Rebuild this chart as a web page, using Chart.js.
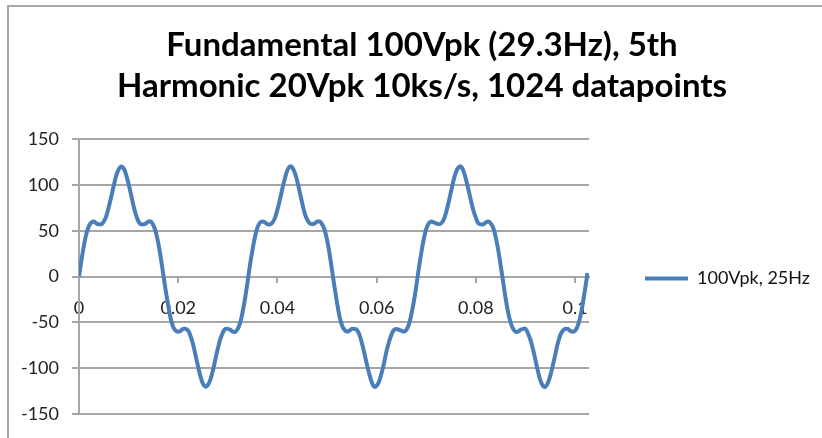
<!DOCTYPE html>
<html>
<head>
<meta charset="utf-8">
<script src="https://cdn.jsdelivr.net/npm/chart.js@4.4.1/dist/chart.umd.min.js"></script>
<style>
  html, body { margin: 0; padding: 0; background: #fff; overflow: hidden; }
  #wrap { position: relative; width: 822px; height: 438px; }
  #frame {
    position: absolute; left: 7px; top: 5px; width: 840px; height: 460px;
    border-top: 2px solid #a6a6a6; border-left: 2px solid #a6a6a6;
    pointer-events: none;
  }
</style>
</head>
<body>
<div id="wrap">
  <canvas id="chart" width="822" height="438"></canvas>
  <div id="frame"></div>
</div>
<script>
const titleLines = ['Fundamental 100Vpk (29.3Hz), 5th', 'Harmonic 20Vpk 10ks/s, 1024 datapoints']
const seriesLabel = '100Vpk, 25Hz'

// values every 0.5 ms (seconds on x)
const sampleStep = 0.0005
const voltage = [
  0, 18, 34, 47, 55, 59, 60, 58, 57, 57, 60, 66, 76, 87, 99, 110, 117, 120, 118, 111,
  101, 89, 77, 67, 60, 57, 57, 58, 60, 60, 56, 48, 36, 20, 2, -16,
  -32, -46, -55, -59, -60, -59, -57, -57, -59, -65, -74, -86, -98, -109, -117, -120, -118, -112, -102, -90,
  -78, -68, -61, -57, -57, -58, -60, -60, -57, -50, -38, -23, -5,
  14, 30, 44, 54, 59, 60, 59, 57, 57, 59, 64, 73, 84, 96, 107, 116, 120, 119, 113, 104,
  92, 80, 69, 62, 58, 57, 58, 60, 60, 57, 51, 40, 25, 7,
  -11, -28, -43, -53, -58, -60, -59, -57, -57, -58, -63, -72, -83, -95, -106, -115, -120, -119, -114, -105,
  -94, -81, -71, -63, -58, -57, -58, -59, -60, -58, -52, -41, -27, -10,
  9, 26, 41, 52, 58, 60, 59, 58, 57, 58, 62, 70, 81, 93, 105, 114, 119, 120, 115, 106,
  95, 83, 72, 64, 58, 57, 57, 59, 60, 58, 53, 43, 29, 12,
  -6, -24, -39, -50, -57, -60, -60, -58, -57, -57, -62, -69, -79, -91, -103, -113, -119, -120, -116, -108,
  -97, -85, -73, -64, -59, -57, -57, -59, -60, -59, -54, -45, -31, -14, 4
]

const xTicks = [0, 0.02, 0.04, 0.06, 0.08, 0.1]
const yTicks = [-150, -100, -50, 0, 50, 100, 150]

const gridGrey = '#a6a6a6'
const lineBlue = '#4a7ebb'

const points = voltage.map((v, i) => ({ x: i * sampleStep, y: v }))

// keep the legend column a fixed width so the plot ends where Excel put it,
// and centre the entry on the plot area instead of the whole canvas
const legendBox = {
  id: 'legendBox',
  beforeLayout(chart) {
    const lg = chart.legend
    if (!lg || lg._fixed) return
    const fit = lg.fit.bind(lg)
    lg.fit = function () { fit(); this.width = 233 }
    lg._fixed = true
  },
  afterLayout(chart) {
    const lg = chart.legend
    if (!lg) return
    lg.top = chart.chartArea.top + 4
    lg.bottom = chart.chartArea.bottom
  }
}

new Chart(document.getElementById('chart'), {
  type: 'line',
  data: {
    datasets: [{
      label: seriesLabel,
      data: points,
      borderColor: lineBlue,
      backgroundColor: lineBlue,
      borderWidth: 4,
      pointRadius: 0,
      tension: 0.4,
      fill: false
    }]
  },
  options: {
    responsive: false,
    animation: false,
    layout: { padding: { left: 22, right: 0, top: 0, bottom: 21 } },
    plugins: {
      title: {
        display: true,
        text: titleLines,
        color: '#000',
        font: { family: 'Lato', size: 33, weight: 'bold', lineHeight: 1.2424 },
        padding: { top: 24.5, bottom: 32.5 }
      },
      legend: {
        position: 'right',
        labels: {
          usePointStyle: true,
          pointStyle: 'line',
          pointStyleWidth: 43,
          padding: 56,
          color: '#111',
          font: { family: 'Lato', size: 18 }
        }
      },
      tooltip: { enabled: false }
    },
    scales: {
      x: {
        type: 'linear',
        position: { y: 0 },
        min: 0,
        max: 0.1028,
        afterBuildTicks: s => { s.ticks = xTicks.map(v => ({ value: v })) },
        ticks: {
          autoSkip: false,
          maxRotation: 0,
          padding: 16,
          color: '#222',
          font: { family: 'Lato', size: 18 },
          callback: v => String(v)
        },
        grid: { drawOnChartArea: false, tickLength: 5, color: gridGrey, lineWidth: 2 },
        border: { color: gridGrey, width: 2 }
      },
      y: {
        min: -150,
        max: 150,
        afterFit: s => { s.width = 57 },
        afterBuildTicks: s => { s.ticks = yTicks.map(v => ({ value: v })) },
        ticks: {
          padding: 13,
          color: '#222',
          font: { family: 'Lato', size: 18 }
        },
        grid: { color: gridGrey, lineWidth: 2, tickLength: 7 },
        border: { color: gridGrey, width: 2 }
      }
    }
  },
  plugins: [legendBox]
})
</script>
</body>
</html>
